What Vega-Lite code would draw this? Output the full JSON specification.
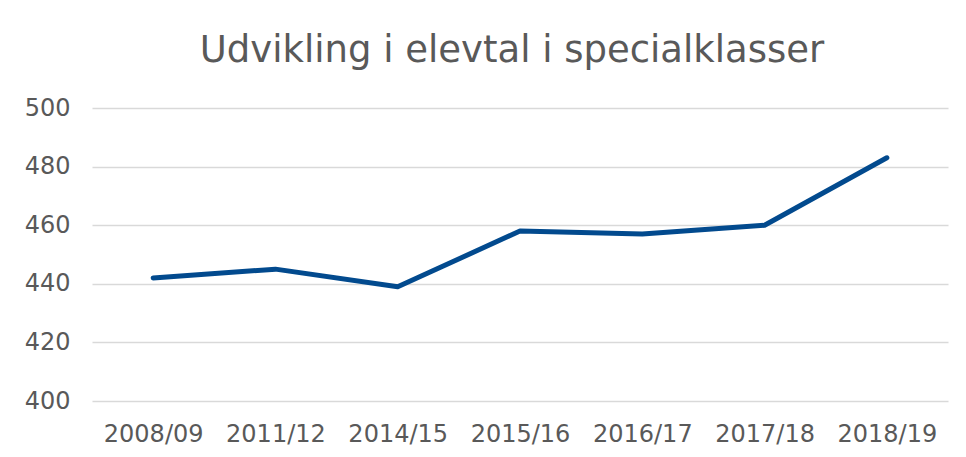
{
  "$schema": "https://vega.github.io/schema/vega-lite/v6.json",
  "autosize": "none",
  "width": 856,
  "height": 293,
  "padding": {"left": 92, "top": 108, "right": 18, "bottom": 56},
  "background": "white",
  "config": {"view": {"stroke": null}, "font": "DejaVu Sans"},
  "title": {
    "text": "Udvikling i elevtal i specialklasser",
    "fontSize": 37,
    "font": "DejaVu Sans",
    "fontWeight": "normal",
    "color": "#595959",
    "anchor": "middle",
    "dx": -8,
    "offset": 26
  },
  "data": {
    "values": [
      {"year": "2008/09", "value": 442},
      {"year": "2011/12", "value": 445},
      {"year": "2014/15", "value": 439},
      {"year": "2015/16", "value": 458},
      {"year": "2016/17", "value": 457},
      {"year": "2017/18", "value": 460},
      {"year": "2018/19", "value": 483}
    ]
  },
  "mark": {"type": "line", "color": "#024A8E", "strokeWidth": 5, "strokeCap": "round", "strokeJoin": "round"},
  "encoding": {
    "x": {
      "field": "year",
      "type": "ordinal",
      "sort": null,
      "scale": {"type": "point", "padding": 0.5},
      "axis": {
        "title": null,
        "labelAngle": 0,
        "domain": false,
        "ticks": false,
        "labelFontSize": 24,
        "labelColor": "#595959",
        "labelPadding": 21,
        "labelFont": "DejaVu Sans"
      }
    },
    "y": {
      "field": "value",
      "type": "quantitative",
      "scale": {"domain": [400, 500], "nice": false, "zero": false},
      "axis": {
        "title": null,
        "values": [400, 420, 440, 460, 480, 500],
        "domain": false,
        "ticks": false,
        "labelFontSize": 24,
        "labelColor": "#595959",
        "labelPadding": 22,
        "gridColor": "#d9d9d9",
        "gridWidth": 1.5,
        "labelFont": "DejaVu Sans"
      }
    }
  }
}
